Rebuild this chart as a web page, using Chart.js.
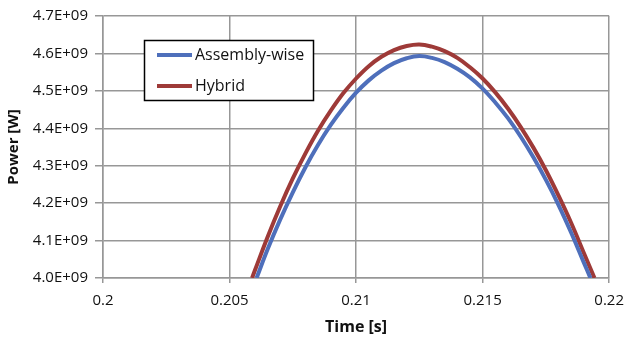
<!DOCTYPE html>
<html>
<head>
<meta charset="utf-8">
<script src="https://cdn.jsdelivr.net/npm/chart.js@4.4.1/dist/chart.umd.min.js"></script>
<style>
  html, body { margin: 0; padding: 0; background: #fff; }
  #wrap { width: 633px; height: 339px; position: relative; }
</style>
</head>
<body>
<div id="wrap"><canvas id="powerChart"></canvas></div>
<script>
// values (time in s, power in W)
const seriesNames = ['Assembly-wise', 'Hybrid'];
const seriesColors = ['#4e6fbb', '#9e3a38'];

const assemblyTime = [0.20607, 0.2065, 0.2070, 0.2075, 0.2080, 0.2085, 0.2090, 0.2095, 0.2100,
  0.2105, 0.2110, 0.2115, 0.2120, 0.2125, 0.2130, 0.2135, 0.2140, 0.2145, 0.2150, 0.2155,
  0.2160, 0.2165, 0.2170, 0.2175, 0.2180, 0.2185, 0.2190, 0.21926];
const assemblyPower = [4.000e9, 4.076e9, 4.156e9, 4.229e9, 4.296e9, 4.356e9, 4.409e9, 4.455e9, 4.495e9,
  4.528e9, 4.554e9, 4.574e9, 4.587e9, 4.593e9, 4.588e9, 4.577e9, 4.559e9, 4.536e9, 4.506e9, 4.469e9,
  4.427e9, 4.378e9, 4.323e9, 4.262e9, 4.195e9, 4.121e9, 4.041e9, 4.000e9];

const hybridTime = [0.20589, 0.2060, 0.2065, 0.2070, 0.2075, 0.2080, 0.2085, 0.2090, 0.2095, 0.2100,
  0.2105, 0.2110, 0.2115, 0.2120, 0.2125, 0.2130, 0.2135, 0.2140, 0.2145, 0.2150, 0.2155,
  0.2160, 0.2165, 0.2170, 0.2175, 0.2180, 0.2185, 0.2190, 0.21942];
const hybridPower = [4.000e9, 4.020e9, 4.109e9, 4.191e9, 4.266e9, 4.333e9, 4.394e9, 4.447e9, 4.494e9, 4.533e9,
  4.566e9, 4.591e9, 4.609e9, 4.620e9, 4.624e9, 4.618e9, 4.606e9, 4.588e9, 4.563e9, 4.533e9, 4.496e9,
  4.453e9, 4.404e9, 4.349e9, 4.288e9, 4.220e9, 4.147e9, 4.067e9, 4.000e9];

const xTickLabels = ['0.2', '0.205', '0.21', '0.215', '0.22'];
const yTickLabels = ['4.0E+09', '4.1E+09', '4.2E+09', '4.3E+09', '4.4E+09', '4.5E+09', '4.6E+09', '4.7E+09'];

const FONT = "'Open Sans', sans-serif";
const GRID = '#979797';

function pairs(xs, ys) {
  return xs.map((x, i) => ({ x: x, y: ys[i] }));
}

// legend box floating inside the plot, like the Excel one
const boxLegend = {
  id: 'boxLegend',
  afterDraw(chart) {
    const ctx = chart.ctx;
    const x0 = 144.5, y0 = 40.5, w = 169, h = 60;
    ctx.save();
    ctx.fillStyle = '#fff';
    ctx.fillRect(x0, y0, w, h);
    ctx.strokeStyle = '#000';
    ctx.lineWidth = 1.5;
    ctx.strokeRect(x0, y0, w, h);
    ctx.font = '16px ' + FONT;
    ctx.textBaseline = 'middle';
    chart.data.datasets.forEach((ds, i) => {
      const y = 55 + i * 31;
      ctx.strokeStyle = ds.borderColor;
      ctx.lineWidth = 4;
      ctx.beginPath();
      ctx.moveTo(157, y);
      ctx.lineTo(192, y);
      ctx.stroke();
      ctx.fillStyle = '#111';
      ctx.fillText(ds.label, 195, y);
    });
    ctx.restore();
  }
};

new Chart(document.getElementById('powerChart'), {
  type: 'scatter',
  data: {
    datasets: [
      { label: seriesNames[0], data: pairs(assemblyTime, assemblyPower), borderColor: seriesColors[0],
        backgroundColor: seriesColors[0], borderWidth: 4, showLine: true, pointRadius: 0,
        tension: 0.4, clip: 0 },
      { label: seriesNames[1], data: pairs(hybridTime, hybridPower), borderColor: seriesColors[1],
        backgroundColor: seriesColors[1], borderWidth: 4, showLine: true, pointRadius: 0,
        tension: 0.4, clip: 0 }
    ]
  },
  options: {
    responsive: true,
    maintainAspectRatio: false,
    animation: false,
    layout: { padding: { left: 0, right: 15, top: 16, bottom: 0 } },
    plugins: { legend: { display: false }, tooltip: { enabled: false } },
    scales: {
      x: {
        type: 'linear', min: 0.2, max: 0.22,
        afterFit: s => { s.height = 61; },
        ticks: { stepSize: 0.005, padding: 9, color: '#111', font: { family: FONT, size: 15 },
          callback: (v, i) => xTickLabels[i] },
        grid: { color: GRID, lineWidth: 1.5, tickLength: 5 },
        border: { color: GRID, width: 1.5 },
        title: { display: true, text: 'Time [s]', color: '#111', padding: { top: 4, bottom: 2 },
          font: { family: FONT, size: 16, weight: 'bold' } }
      },
      y: {
        min: 4.0e9, max: 4.7e9,
        afterFit: s => { s.width = 103; },
        ticks: { stepSize: 1e8, padding: 7, color: '#111', font: { family: FONT, size: 15 },
          callback: (v, i) => yTickLabels[i] },
        grid: { color: GRID, lineWidth: 1.5, tickLength: 8 },
        border: { color: GRID, width: 1.5 },
        title: { display: true, text: 'Power [W]', color: '#111', padding: { top: 5, bottom: 4 },
          font: { family: FONT, size: 15, weight: 'bold' } }
      }
    }
  },
  plugins: [boxLegend]
});
</script>
</body>
</html>
